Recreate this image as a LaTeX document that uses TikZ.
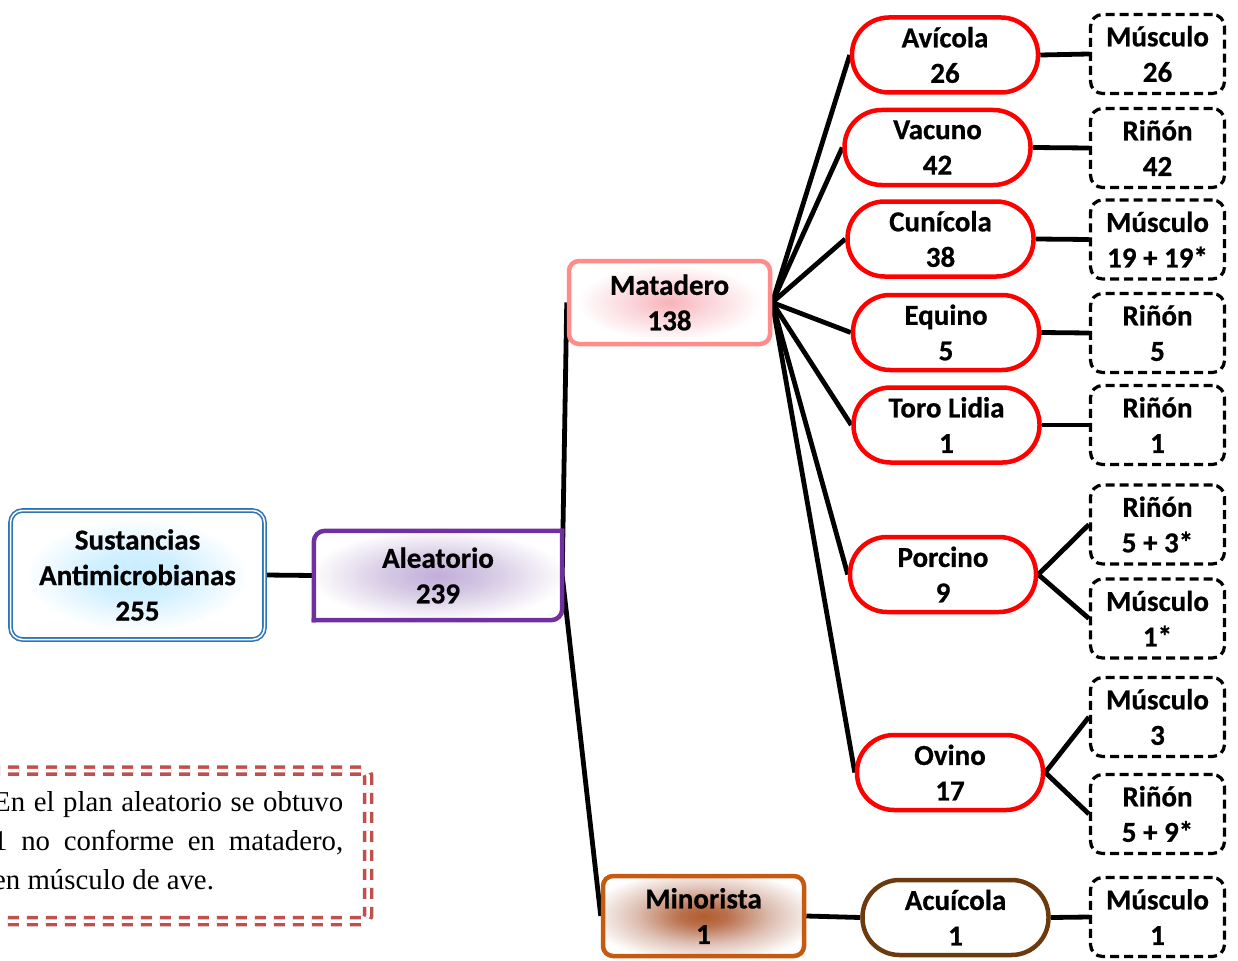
\documentclass[tikz,border=0pt]{standalone}
\usepackage{fontspec}
\setmainfont{Carlito}[BoldFeatures={FakeBold=0.6}]
\newfontfamily\notefont{Liberation Serif}

\pgfdeclarelayer{bg}
\pgfsetlayers{bg,main}

\definecolor{rootblue}{HTML}{2E75B6}
\definecolor{alepurple}{HTML}{7030A0}
\definecolor{matpink}{HTML}{FF8B8B}
\definecolor{minorange}{HTML}{C55A11}
\definecolor{pillred}{HTML}{FF0000}
\definecolor{acubrown}{HTML}{6B3A0F}
\definecolor{notered}{HTML}{C0504D}

% soft glows behind the labels of the main boxes
\pgfdeclareradialshading{glowblue}{\pgfpointorigin}{rgb(0bp)=(0.78,0.93,1); rgb(9bp)=(0.82,0.94,1); rgb(22bp)=(1,1,1); rgb(50bp)=(1,1,1)}
\pgfdeclareradialshading{glowpurple}{\pgfpointorigin}{rgb(0bp)=(0.76,0.68,0.85); rgb(10bp)=(0.83,0.78,0.89); rgb(26bp)=(1,1,1); rgb(50bp)=(1,1,1)}
\pgfdeclareradialshading{glowpink}{\pgfpointorigin}{rgb(0bp)=(0.97,0.70,0.72); rgb(7bp)=(0.98,0.80,0.82); rgb(23bp)=(1,1,1); rgb(50bp)=(1,1,1)}
\pgfdeclareradialshading{glowbrown}{\pgfpointorigin}{rgb(0bp)=(0.70,0.36,0.18); rgb(6bp)=(0.73,0.44,0.30); rgb(17bp)=(0.87,0.75,0.70); rgb(29bp)=(1,1,1); rgb(50bp)=(1,1,1)}

\tikzset{
  lbl/.style={font=\fontsize{29}{35.5}\selectfont\bfseries, align=center, inner sep=0pt},
  mainbox/.style={lbl, line width=4.5pt, rounded corners=10pt, minimum width=201pt},
  pill/.style={lbl, draw=pillred, line width=4.5pt, fill=white, minimum width=186pt,
    minimum height=75pt, rounded corners=37pt},
  organ/.style={lbl, draw=black, line width=3.2pt, dash pattern=on 9pt off 5pt, fill=white,
    minimum width=134pt, minimum height=79pt, rounded corners=12pt},
  link/.style={line width=4.8pt, black},
  aleframe/.style={alepurple, line width=4.5pt, line cap=rect, rounded corners=11pt},
  notebox/.style={draw=notered, line width=3.5pt, double=white, double distance=3.5pt,
    dash pattern=on 11pt off 8pt, rounded corners=5pt},
  notetxt/.style={font=\notefont\fontsize{28.8}{39}\selectfont, inner sep=0pt, anchor=base west},
}

\begin{document}
\begin{tikzpicture}[x=1pt, y=-1pt]
\useasboundingbox (0,0) rectangle (1238,960);
\clip (0,0) rectangle (1238,960);

% root and first level
\node[lbl, draw=rootblue, double=white, line width=1.6pt, double distance=1.5pt,
  rounded corners=12pt, shading=glowblue, minimum width=254pt, minimum height=129pt]
  (root) at (137.5,575) {Sustancias\\Antimicrobianas\\255};
\node[lbl, shading=glowpurple, minimum width=248pt, minimum height=89pt]
  (ale) at (438,575.5) {Aleatorio\\239};
% its frame: rounded at top left and bottom right only
\draw[aleframe] (ale.south west) -- (ale.north west) -- (ale.north east);
\draw[aleframe] (ale.north east) -- (ale.south east) -- (ale.south west);

% sampling points
\node[mainbox, draw=matpink, shading=glowpink, minimum height=83pt] (mat) at (669.5,302.5) {Matadero\\138};
\node[mainbox, draw=minorange, shading=glowbrown, minimum height=80pt] (min) at (703.5,916) {Minorista\\1};

% species
\node[pill] (avi) at (945,55)     {Avícola\\26};
\node[pill] (vac) at (937.5,147.5) {Vacuno\\42};
\node[pill] (cun) at (940.5,239)  {Cunícola\\38};
\node[pill] (equ) at (946,332.5)  {Equino\\5};
\node[pill] (tor) at (946.5,425)  {Toro Lidia\\1};
\node[pill] (por) at (943,574.5)  {Porcino\\9};
\node[pill] (ovi) at (950,772.5)  {Ovino\\17};
\node[pill, draw=acubrown] (acu) at (955.5,917.5) {Acuícola\\1};

% tissues
\node[organ] (o1)  at (1157.5,54)    {Músculo\\26};
\node[organ] (o2)  at (1157.5,148)   {Riñón\\42};
\node[organ] (o3)  at (1157.5,239.5) {Músculo\\19 + 19*};
\node[organ] (o4)  at (1157.5,333)   {Riñón\\5};
\node[organ] (o5)  at (1157.5,425)   {Riñón\\1};
\node[organ] (o6)  at (1157.5,524.5) {Riñón\\5 + 3*};
\node[organ] (o7)  at (1157.5,618.5) {Músculo\\1*};
\node[organ] (o8)  at (1157.5,717)   {Músculo\\3};
\node[organ] (o9)  at (1157.5,814)   {Riñón\\5 + 9*};
\node[organ] (o10) at (1157.5,917)   {Músculo\\1};

% connectors
\begin{pgfonlayer}{bg}
  \draw[link] (root.east) -- (ale.west);
  \draw[link] (ale.east) -- (mat.west);
  \draw[link] (ale.east) -- (min.west);
  \foreach \p in {avi,vac,cun,equ,tor,por,ovi}
    \draw[link] (mat.east) -- (\p.west);
  \draw[link] (min.east) -- (acu.west);
  \draw[link] (avi.east) -- (o1.west);
  \draw[link] (vac.east) -- (o2.west);
  \draw[link] (cun.east) -- (o3.west);
  \draw[link] (equ.east) -- (o4.west);
  \draw[link] (tor.east) -- (o5.west);
  \draw[link] (por.east) -- (o6.west);
  \draw[link] (por.east) -- (o7.west);
  \draw[link] (ovi.east) -- (o8.west);
  \draw[link] (ovi.east) -- (o9.west);
  \draw[link] (acu.east) -- (o10.west);
\end{pgfonlayer}

% note
\draw[notebox] (-30,770.5) -- (368,770.5) -- (368,921) -- (-30,921);
\node[notetxt] (note1) at (-7,811) {\makebox[350pt][s]{En el plan aleatorio se obtuvo}};
\node[notetxt] (note2) at (-7,850) {\makebox[350pt][s]{1 no conforme en matadero,}};
\node[notetxt] (note3) at (-7,889) {en músculo de ave.};
\end{tikzpicture}
\end{document}
